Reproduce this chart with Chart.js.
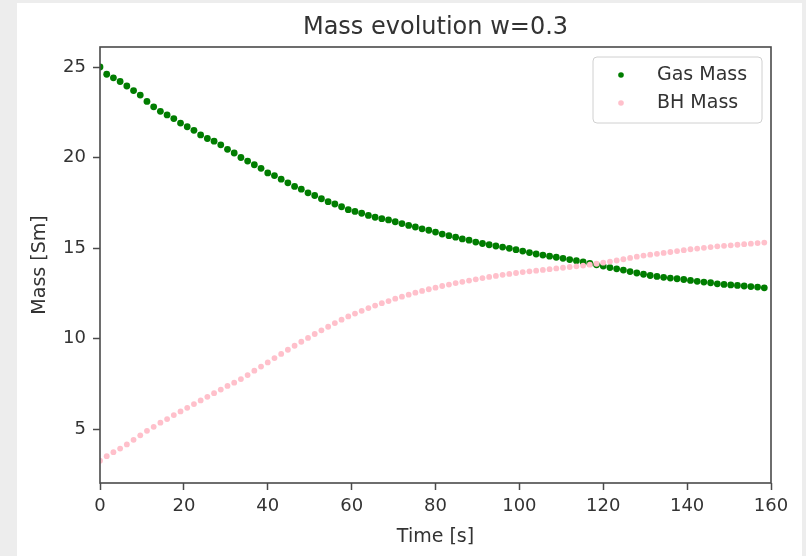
<!DOCTYPE html>
<html>
<head>
<meta charset="utf-8">
<script src="https://cdn.jsdelivr.net/npm/chart.js@4.4.1/dist/chart.umd.min.js"></script>
<style>
  html, body { margin: 0; padding: 0; background: #ededed; }
  #fig { position: absolute; left: 17px; top: 3px; width: 785px; height: 553px; background: #ffffff; }
  canvas { display: block; }
</style>
</head>
<body>
<div id="fig"><canvas id="massChart" width="785" height="553"></canvas></div>
<script>
// time samples [s]
const timeValues = [
  0, 1.6, 3.2, 4.8, 6.4, 8, 9.6, 11.2, 12.8, 14.4,
  16, 17.6, 19.2, 20.8, 22.4, 24, 25.6, 27.2, 28.8, 30.4,
  32, 33.6, 35.2, 36.8, 38.4, 40, 41.6, 43.2, 44.8, 46.4,
  48, 49.6, 51.2, 52.8, 54.4, 56, 57.6, 59.2, 60.8, 62.4,
  64, 65.6, 67.2, 68.8, 70.4, 72, 73.6, 75.2, 76.8, 78.4,
  80, 81.6, 83.2, 84.8, 86.4, 88, 89.6, 91.2, 92.8, 94.4,
  96, 97.6, 99.2, 100.8, 102.4, 104, 105.6, 107.2, 108.8, 110.4,
  112, 113.6, 115.2, 116.8, 118.4, 120, 121.6, 123.2, 124.8, 126.4,
  128, 129.6, 131.2, 132.8, 134.4, 136, 137.6, 139.2, 140.8, 142.4,
  144, 145.6, 147.2, 148.8, 150.4, 152, 153.6, 155.2, 156.8, 158.4
];

// gas mass [Sm]
const gasMass = [
  25.0, 24.6, 24.4, 24.2, 23.95, 23.7, 23.45, 23.1, 22.8, 22.55,
  22.35, 22.15, 21.9, 21.7, 21.5, 21.25, 21.05, 20.9, 20.7, 20.45,
  20.25, 20.0, 19.8, 19.6, 19.4, 19.15, 19.0, 18.8, 18.6, 18.4,
  18.25, 18.05, 17.9, 17.72, 17.56, 17.43, 17.28, 17.12, 17.02, 16.92,
  16.8, 16.7, 16.62, 16.55, 16.45, 16.35, 16.25, 16.16, 16.06, 15.98,
  15.88, 15.77, 15.68, 15.6, 15.5, 15.43, 15.33, 15.25, 15.18, 15.11,
  15.05, 14.98, 14.91, 14.83, 14.75, 14.67, 14.61, 14.55, 14.49, 14.43,
  14.36, 14.3, 14.23, 14.15, 14.07, 14.0, 13.92, 13.85, 13.78, 13.7,
  13.62, 13.55, 13.48, 13.43, 13.38, 13.34, 13.3, 13.26, 13.21, 13.16,
  13.12, 13.08, 13.02, 12.99, 12.96, 12.93, 12.9, 12.87, 12.84, 12.8
];

// black hole mass [Sm]
const bhMass = [
  3.25, 3.5, 3.72, 3.92, 4.15, 4.4, 4.65, 4.9, 5.12, 5.35,
  5.55, 5.77, 5.97, 6.17, 6.38, 6.58, 6.78, 6.98, 7.18, 7.38,
  7.56, 7.76, 7.98, 8.22, 8.45, 8.68, 8.92, 9.15, 9.38, 9.6,
  9.82, 10.03, 10.25, 10.45, 10.65, 10.85, 11.04, 11.22, 11.38, 11.53,
  11.68, 11.82, 11.95, 12.07, 12.2, 12.31, 12.42, 12.53, 12.63, 12.72,
  12.81, 12.9, 12.98, 13.06, 13.13, 13.2, 13.27, 13.34, 13.4, 13.46,
  13.52, 13.57, 13.62, 13.67, 13.71, 13.75, 13.79, 13.83, 13.87, 13.91,
  13.95, 13.99, 14.03, 14.08, 14.13, 14.19, 14.25, 14.31, 14.38, 14.45,
  14.52, 14.58, 14.63, 14.68, 14.73, 14.78, 14.83, 14.88, 14.93, 14.97,
  15.01, 15.05, 15.09, 15.12, 15.15, 15.18, 15.21, 15.24, 15.27, 15.3
];

const xTickValues = [0, 20, 40, 60, 80, 100, 120, 140, 160];
const yTickValues = [5, 10, 15, 20, 25];
const seriesLabels = ['Gas Mass', 'BH Mass'];

const textColor = '#333333';
const spineColor = '#4a4a4a';
const font18 = { family: 'DejaVu Sans', size: 18 };
const font19 = { family: 'DejaVu Sans', size: 19 };

// frame on all four sides, like matplotlib spines
const framePlugin = {
  id: 'frame',
  afterDatasetsDraw(chart) {
    const { ctx, chartArea: a } = chart;
    ctx.save();
    ctx.strokeStyle = spineColor;
    ctx.lineWidth = 1.6;
    ctx.strokeRect(a.left, a.top, a.right - a.left, a.bottom - a.top);
    ctx.restore();
  }
};

// legend box inside the axes, top right
const insideLegend = {
  id: 'insideLegend',
  afterDraw(chart) {
    const { ctx, chartArea: a } = chart;
    const w = 169, h = 66;
    const x0 = a.right - 9 - w, y0 = a.top + 10;
    ctx.save();
    ctx.beginPath();
    ctx.roundRect(x0, y0, w, h, 4);
    ctx.fillStyle = 'rgba(255,255,255,0.85)';
    ctx.fill();
    ctx.strokeStyle = '#d0d0d0';
    ctx.lineWidth = 1;
    ctx.stroke();
    chart.data.datasets.forEach((ds, i) => {
      const cy = y0 + 18 + i * 28;
      ctx.beginPath();
      ctx.arc(x0 + 28, cy, 2.8, 0, Math.PI * 2);
      ctx.fillStyle = ds.backgroundColor;
      ctx.fill();
      ctx.fillStyle = textColor;
      ctx.font = '19px "DejaVu Sans"';
      ctx.textBaseline = 'middle';
      ctx.textAlign = 'left';
      ctx.fillText(ds.label, x0 + 64, cy);
    });
    ctx.restore();
  }
};

const chartCanvas = document.getElementById('massChart');

new Chart(chartCanvas, {
  type: 'scatter',
  data: {
    datasets: [
      {
        label: seriesLabels[0],
        data: timeValues.map((t, i) => ({ x: t, y: gasMass[i] })),
        backgroundColor: '#007d00',
        borderWidth: 0,
        pointRadius: 3.4,
        order: 1
      },
      {
        label: seriesLabels[1],
        data: timeValues.map((t, i) => ({ x: t, y: bhMass[i] })),
        backgroundColor: '#ffc0cb',
        borderWidth: 0,
        pointRadius: 2.9,
        order: 0
      }
    ]
  },
  options: {
    responsive: false,
    animation: false,
    layout: { padding: { left: 0, right: 31, top: 0, bottom: 0 } },
    plugins: {
      legend: { display: false },
      tooltip: { enabled: false },
      title: {
        display: true,
        fullSize: false,
        text: 'Mass evolution w=0.3',
        color: textColor,
        font: { family: 'DejaVu Sans', size: 24, weight: 'normal' },
        padding: { top: 10, bottom: 5.2 }
      }
    },
    scales: {
      x: {
        type: 'linear',
        min: 0,
        max: 160,
        afterBuildTicks: (scale) => { scale.ticks = xTickValues.map(v => ({ value: v })); },
        afterFit: (scale) => { scale.height = 73; },
        grid: { display: true, drawOnChartArea: false, drawTicks: true, tickLength: 7, tickColor: spineColor, tickWidth: 1.5 },
        border: { display: false },
        ticks: { color: textColor, font: font18, padding: 6, maxRotation: 0 },
        title: { display: true, text: 'Time [s]', color: textColor, font: font19, padding: { top: 0, bottom: 7.6 } }
      },
      y: {
        type: 'linear',
        min: 2.017,
        max: 26.105,
        afterBuildTicks: (scale) => { scale.ticks = yTickValues.map(v => ({ value: v })); },
        afterFit: (scale) => { scale.width = 83; },
        grid: { display: true, drawOnChartArea: false, drawTicks: true, tickLength: 7, tickColor: spineColor, tickWidth: 1.5 },
        border: { display: false },
        ticks: { color: textColor, font: font18, padding: 7 },
        title: { display: true, text: 'Mass [Sm]', color: textColor, font: font19, padding: { top: 11.6, bottom: 0 } }
      }
    }
  },
  plugins: [framePlugin, insideLegend]
});
</script>
</body>
</html>
